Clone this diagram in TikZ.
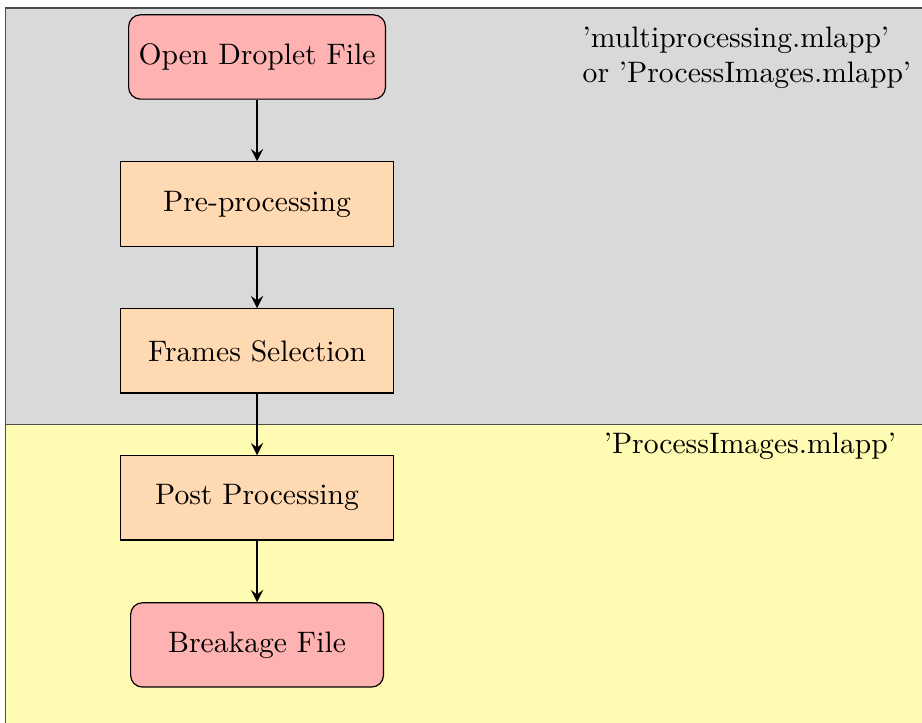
\documentclass[tikz,border=0pt]{standalone}
\usepackage{tikz}
\usetikzlibrary{shapes.misc}
\usetikzlibrary{arrows,arrows.meta}
\usetikzlibrary{positioning}
\tikzset{
    startstop/.style={rectangle, rounded corners, minimum width=3cm, minimum height=1cm, text centered, draw=black, fill=red!30},
    process/.style={rectangle, text width=3cm, align=center, minimum height=1cm, draw=black, fill=orange!30},
    arrow/.style={thick, -stealth},
    applabel/.style={anchor=base west, align=left}
}

\begin{document}
\begin{tikzpicture}[node distance=0.73cm]

    \useasboundingbox (-3.05,0.676) rectangle (7.89,-7.90);
    \clip (-3.05,0.676) rectangle (7.89,-7.90);

    % background regions
    \draw[fill=gray!30, draw=black!70] (-2.98,0.58) rectangle (8.5,-4.365);
    \draw[fill=yellow!30, draw=black!70] (-2.98,-4.365) rectangle (8.5,-8.5);

    \node (open) [startstop] at (0,0) {Open Droplet File};
    \node (pre) [process, below=of open] {Pre-processing};
    \node (frames) [process, below=of pre] {Frames Selection};
    \node (post) [process, below=of frames] {Post Processing};
    \node (breakage) [startstop, below=of post] {Breakage File};

    \draw[arrow] (open) -- (pre);
    \draw[arrow] (pre) -- (frames);
    \draw[arrow] (frames) -- (post);
    \draw[arrow] (post) -- (breakage);

    \node (guilabel) [applabel] at (3.74,-0.308) {'multiprocessing.mlapp'\\or 'ProcessImages.mlapp'};
    \node (postlabel) [applabel] at (3.99,-4.70) {'ProcessImages.mlapp'};

\end{tikzpicture}
\end{document}
